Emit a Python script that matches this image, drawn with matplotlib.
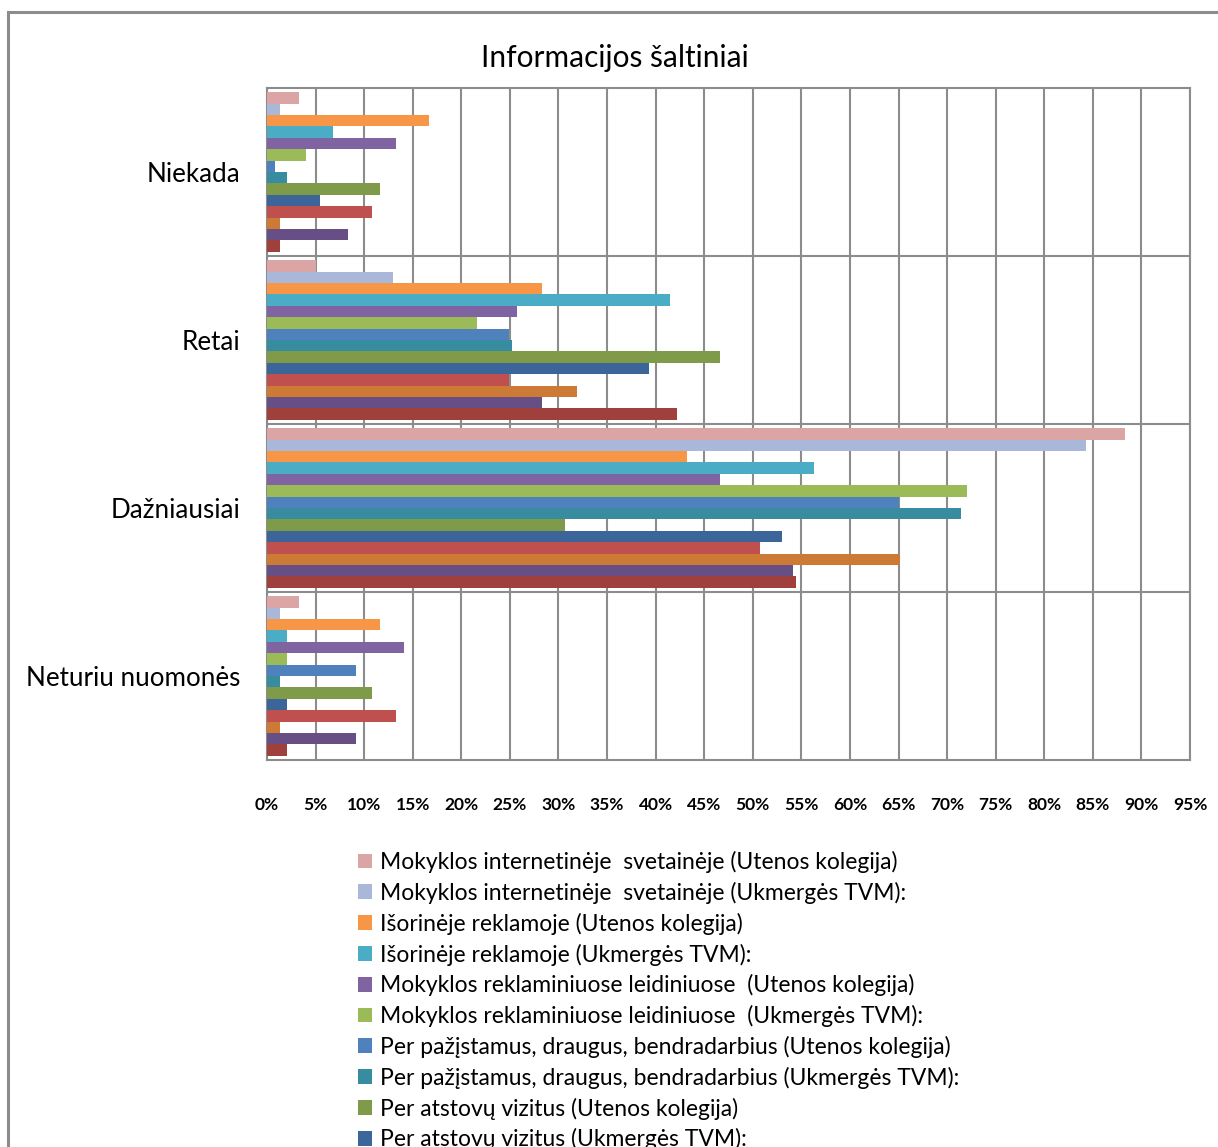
import numpy as np
import matplotlib.pyplot as plt
from matplotlib.patches import Rectangle

plt.rcParams['font.family'] = ['Lato', 'DejaVu Sans']

categories = ['Niekada', 'Retai', 'Dažniausiai', 'Neturiu nuomonės']

series_labels = [
    'Mokyklos internetinėje  svetainėje (Utenos kolegija)',
    'Mokyklos internetinėje  svetainėje (Ukmergės TVM):',
    'Išorinėje reklamoje (Utenos kolegija)',
    'Išorinėje reklamoje (Ukmergės TVM):',
    'Mokyklos reklaminiuose leidiniuose  (Utenos kolegija)',
    'Mokyklos reklaminiuose leidiniuose  (Ukmergės TVM):',
    'Per pažįstamus, draugus, bendradarbius (Utenos kolegija)',
    'Per pažįstamus, draugus, bendradarbius (Ukmergės TVM):',
    'Per atstovų vizitus (Utenos kolegija)',
    'Per atstovų vizitus (Ukmergės TVM):',
    'Mokyklų mugėse (Utenos kolegija)',
    'Mokyklų mugėse (Ukmergės TVM):',
    'Žiniasklaidoje (Utenos kolegija)',
    'Žiniasklaidoje (Ukmergės TVM):',
]

series_colors = ['#DBA5A6', '#A9B8D8', '#F79646', '#4BACC6', '#8064A2', '#9BBB59',
                 '#4F81BD', '#378C9F', '#7F9A48', '#3C6699', '#C0504D', '#CC7A35',
                 '#674F86', '#A0403D']

# percent values, one list per category, in series order
niekada = [3.3, 1.3, 16.7, 6.8, 13.3, 4.0, 0.8, 2.1, 11.6, 5.5, 10.8, 1.3, 8.3, 1.3]
retai = [5.0, 13.0, 28.3, 41.5, 25.7, 21.6, 24.9, 25.2, 46.6, 39.3, 24.9, 31.9, 28.3, 42.2]
dazniausiai = [88.3, 84.3, 43.2, 56.3, 46.6, 72.0, 65.0, 71.4, 30.7, 53.0, 50.7, 65.2, 54.1, 54.4]
neturiu = [3.3, 1.3, 11.6, 2.1, 14.1, 2.1, 9.2, 1.3, 10.8, 2.1, 13.3, 1.3, 9.2, 2.1]

values = np.array([niekada, retai, dazniausiai, neturiu])
x_ticks = list(range(0, 100, 5))

W, H = 1218, 1147
fig = plt.figure(figsize=(W / 100, H / 100), dpi=100)
fig.patch.set_facecolor('white')

# outer chart frame (cut off right and bottom like the source)
fig.patches.append(Rectangle((8 / W, -0.1), 1.2, 1 - 12 / H + 0.1, transform=fig.transFigure,
                             fill=False, edgecolor='#8C8C8C', linewidth=2.2))

ax = fig.add_axes([267 / W, 1 - 760 / H, 923 / W, 672 / H])

n_series = len(series_labels)
group = 0.95
bh = group / n_series
for s in range(n_series):
    ypos = np.arange(len(categories)) - group / 2 + bh * (s + 0.5)
    ax.barh(ypos, values[:, s], height=bh, color=series_colors[s], label=series_labels[s],
            edgecolor='none', zorder=3)

ax.set_xlim(0, 95)
ax.set_ylim(len(categories) - 0.5, -0.5)
ax.set_xticks(x_ticks)
ax.set_xticklabels([f'{t}%' for t in x_ticks], fontsize=12.5, fontweight='bold')
ax.set_yticks(range(len(categories)))
ax.set_yticklabels(categories, fontsize=18.7)
ax.set_yticks(np.arange(0.5, len(categories) - 0.5, 1), minor=True)
ax.tick_params(axis='x', length=0, pad=27)
ax.tick_params(axis='y', which='both', length=0, pad=19)
ax.grid(axis='x', color='#8C8C8C', linewidth=1.5, zorder=0)
ax.grid(axis='y', which='minor', color='#8C8C8C', linewidth=1.5, zorder=0)
ax.grid(axis='y', which='major', visible=False)
for sp in ax.spines.values():
    sp.set_color('#8C8C8C')
    sp.set_linewidth(1.5)

fig.text(615 / W, 1 - 58 / H, 'Informacijos šaltiniai', fontsize=21.5, ha='center', va='center')

fig.legend(loc='upper left', bbox_to_anchor=(358 / W, 1 - 851 / H), frameon=False,
           fontsize=16.5, handlelength=0.62, handleheight=0.62, handletextpad=0.35,
           labelspacing=0.38, borderpad=0, borderaxespad=0)

fig.savefig('out.png', dpi=100)
